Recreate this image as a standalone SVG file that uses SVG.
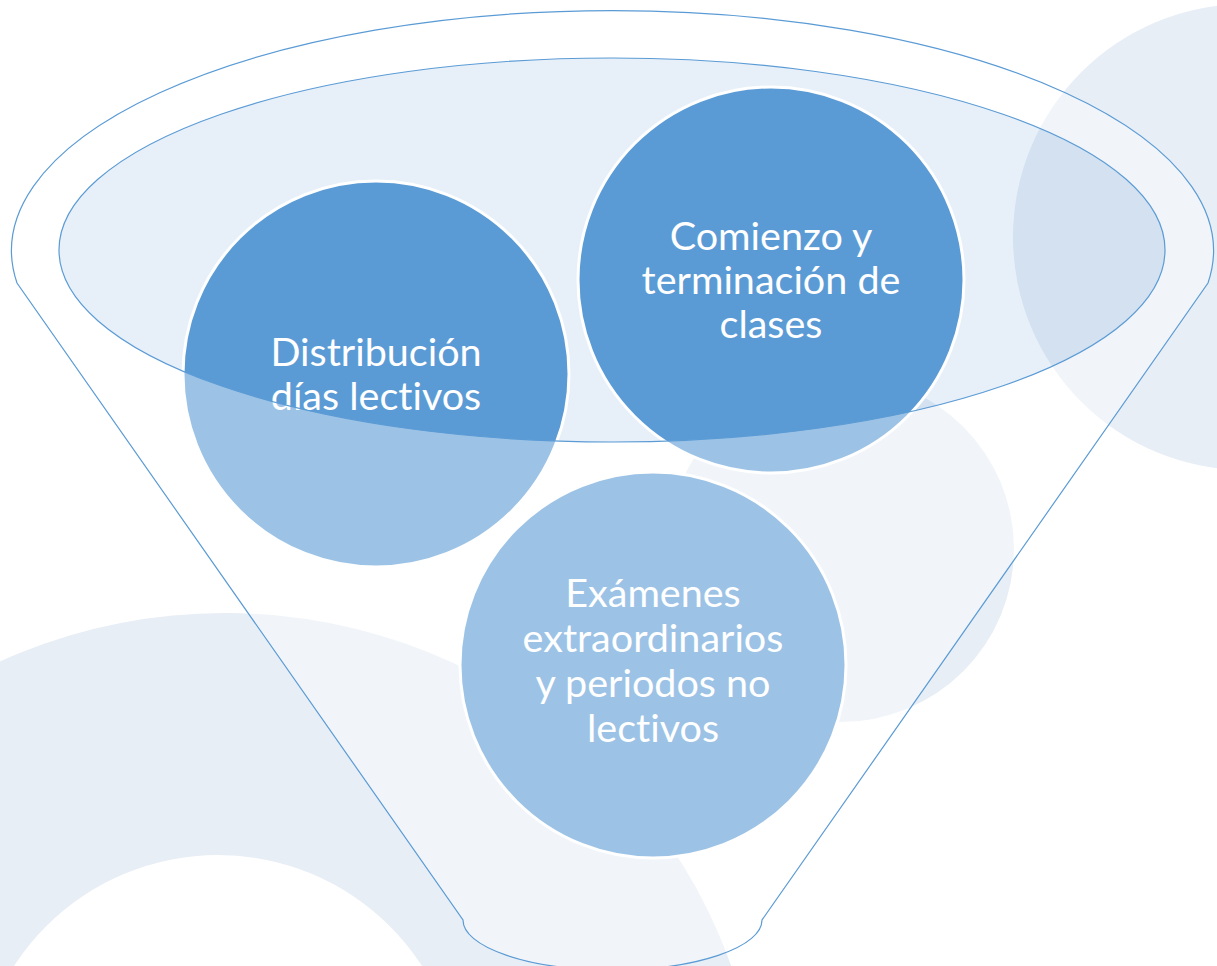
<svg xmlns="http://www.w3.org/2000/svg" width="1217" height="966" viewBox="0 0 1217 966">
  <style>
    .bg { fill: #e8eef5; }
    .node { fill: #5b9bd5; stroke: #ffffff; stroke-width: 3; }
    .label { fill: #ffffff; font-family: Lato, "Open Sans", "Liberation Sans", sans-serif; font-size: 39.5px; text-anchor: middle; font-variant-ligatures: none; font-feature-settings: "liga" 0, "dlig" 0; }
    .line { fill: none; stroke: #5b9bd5; stroke-width: 1.2; }
  </style>
  <rect x="0" y="0" width="1217" height="966" fill="#ffffff"/>
  <g id="background">
    <circle class="bg" cx="1246" cy="237" r="233"/>
    <circle class="bg" cx="841" cy="549" r="173"/>
    <path class="bg" fill-rule="evenodd" d="M -310 1135 A 535 522 0 1 1 760 1135 A 535 522 0 1 1 -310 1135 Z M -25 1098 A 243 243 0 1 0 461 1098 A 243 243 0 1 0 -25 1098 Z"/>
  </g>
  <g id="funnel-rim-fill">
    <ellipse cx="612" cy="250" rx="553" ry="192" fill="#5b9bd5" fill-opacity="0.15"/>
  </g>
  <g id="node-distribucion">
    <circle class="node" cx="376" cy="374" r="193"/>
    <text class="label"><tspan x="376" y="366">Distribución</tspan><tspan x="376" y="410">días lectivos</tspan></text>
  </g>
  <g id="node-comienzo">
    <circle class="node" cx="771" cy="280" r="193"/>
    <text class="label"><tspan x="771" y="250">Comienzo y</tspan><tspan x="771" y="294">terminación de</tspan><tspan x="771" y="338">clases</tspan></text>
  </g>
  <g id="node-examenes">
    <circle class="node" cx="653" cy="665" r="193"/>
    <text class="label"><tspan x="653" y="607">Exámenes</tspan><tspan x="653" y="652">extraordinarios</tspan><tspan x="653" y="697">y periodos no</tspan><tspan x="653" y="742">lectivos</tspan></text>
  </g>
  <g id="connectors">
    <path fill="#ffffff" fill-opacity="0.4" fill-rule="evenodd" stroke="none" d="M 17 283 A 601 240 0 1 1 1208 283 L 762 920 A 149.5 50 0 0 1 463 920 Z M 59 250 A 553 192 0 1 0 1165 250 A 553 192 0 1 0 59 250 Z"/>
    <path class="line" d="M 17 283 A 601 240 0 1 1 1208 283 L 762 920 A 149.5 50 0 0 1 463 920 Z"/>
    <ellipse class="line" cx="612" cy="250" rx="553" ry="192"/>
  </g>
</svg>
